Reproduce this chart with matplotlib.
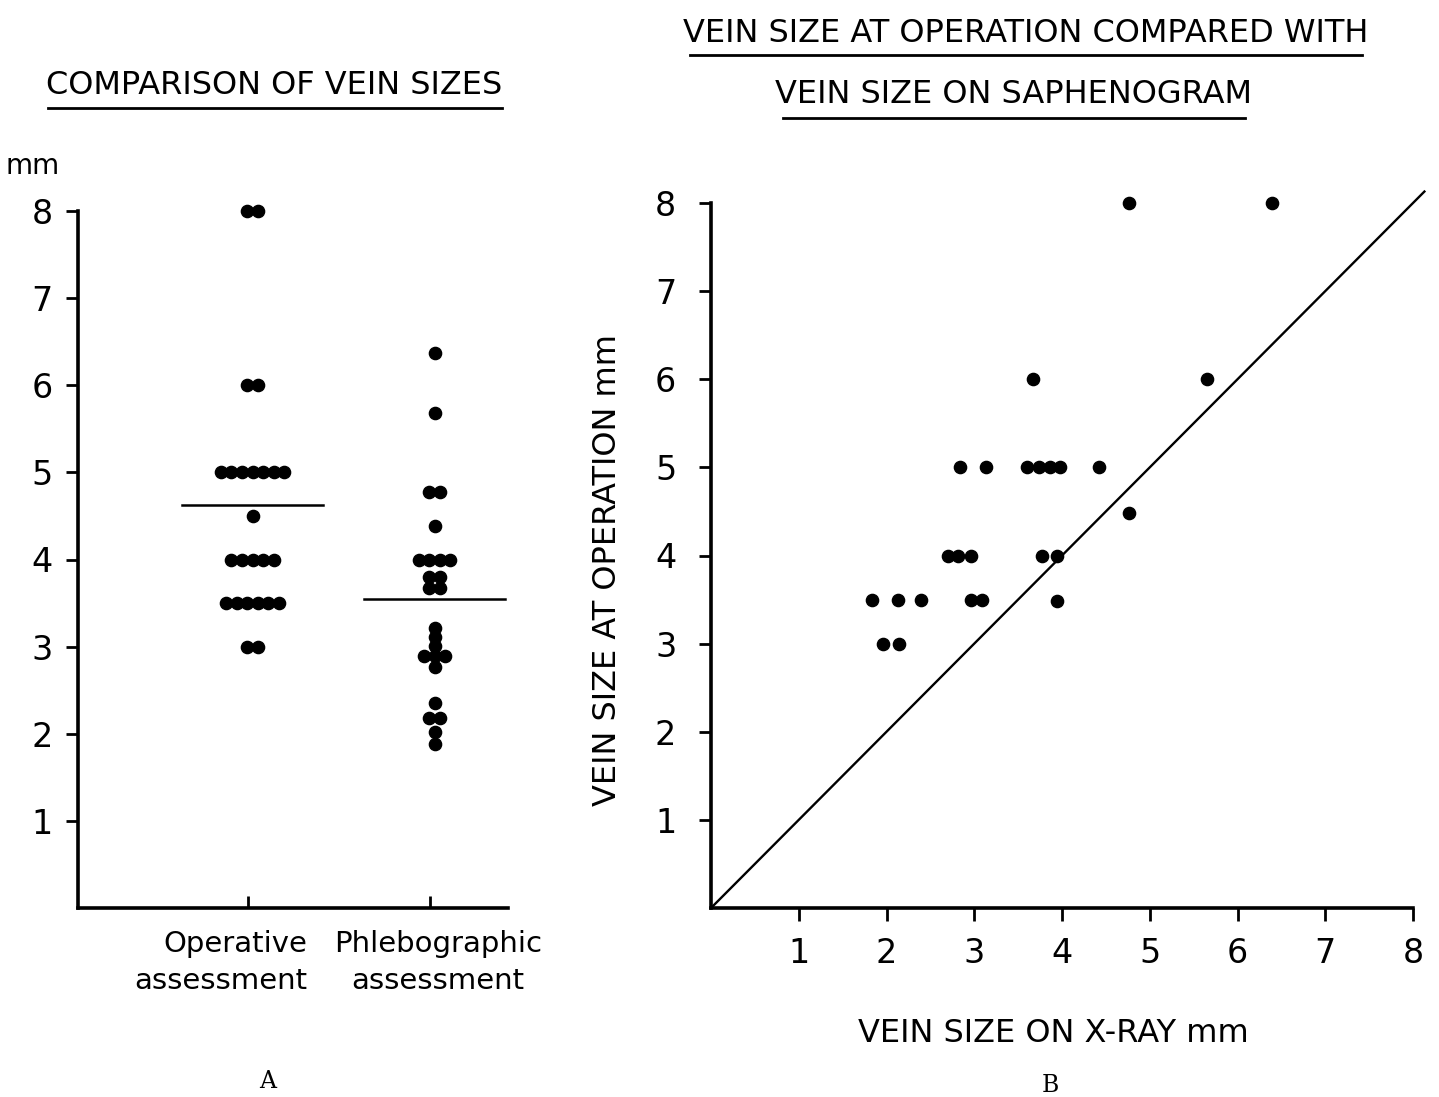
import numpy as np
import matplotlib
matplotlib.use("Agg")
import matplotlib.pyplot as plt
from matplotlib.lines import Line2D

# --- data ---
# panel A: vein size (mm), one dot per patient
operative = [8, 8, 6, 6, 5, 5, 5, 5, 5, 5, 5, 4.5, 4, 4, 4, 4, 4,
             3.5, 3.5, 3.5, 3.5, 3.5, 3.5, 3, 3]
phlebo = [6.37, 5.68, 4.77, 4.77, 4.39, 4.0, 4.0, 4.0, 4.0, 3.80, 3.80,
          3.67, 3.67, 3.21, 3.11, 3.01, 2.89, 2.89, 2.89, 2.77, 2.35,
          2.18, 2.18, 2.02, 1.88]
op_mean = 4.62
ph_mean = 3.55
categories = ["Operative\nassessment", "Phlebographic\nassessment"]

# panel B: x-ray size vs size at operation (mm)
xray = [4.76, 6.39, 3.67, 5.65, 2.84, 3.13, 3.60, 3.74, 3.86, 3.98, 4.42,
        4.76, 2.70, 2.82, 2.96, 3.77, 3.94, 1.84, 2.13, 2.39, 2.96, 3.09,
        3.94, 1.96, 2.14]
at_op = [8, 8, 6, 6, 5, 5, 5, 5, 5, 5, 5, 4.48, 4, 4, 4, 4, 4,
         3.5, 3.5, 3.5, 3.5, 3.5, 3.48, 3, 3]
ticks = [1, 2, 3, 4, 5, 6, 7, 8]

plt.rcParams['font.family'] = 'DejaVu Sans'
FS_T = 23    # titles / axis labels
FS_C = 21    # category labels
FS_K = 24    # tick numbers
W, H = 1439, 1097


def spread(vals, centre, step):
    # put equal values side by side, centred on the category
    xs, ys = [], []
    vals = np.asarray(vals, dtype=float)
    for v in np.unique(vals):
        n = int(np.sum(vals == v))
        off = (np.arange(n) - (n - 1) / 2) * step
        xs += list(centre + off)
        ys += [v] * n
    return xs, ys


def fx(px):
    return px / W


def fy(py):
    return 1 - py / H


fig = plt.figure(figsize=(W / 100, H / 100), dpi=100)

# ---------------- panel A ----------------
axA = fig.add_axes([fx(78), fy(908), (508 - 78) / W, (908 - 211) / H])
step = 0.058
for i, vals in enumerate([operative, phlebo]):
    xs, ys = spread(vals, i + 1.025, step)
    axA.plot(xs, ys, 'o', color='black', ms=8.8, mec='black', clip_on=False)
for i, m in enumerate([op_mean, ph_mean]):
    axA.plot([i + 1.025 - 0.385, i + 1.025 + 0.385], [m, m], color='black', lw=1.8)

axA.set_xlim(1 - 170 / 182, 2 + 78 / 182)
axA.set_ylim(0, 8)
axA.set_yticks(ticks)
axA.set_xticks([1, 2])
axA.set_xticklabels([])
for s in ['top', 'right']:
    axA.spines[s].set_visible(False)
for s in ['left', 'bottom']:
    axA.spines[s].set_linewidth(2.6)
axA.tick_params(axis='y', direction='out', length=9, width=2, pad=9, labelsize=FS_K)
axA.tick_params(axis='x', direction='in', length=9, width=2)

axA.text(1 + 59 / 182, -0.032, categories[0], transform=axA.get_xaxis_transform(),
         ha='right', va='top', multialignment='right', fontsize=FS_C, linespacing=1.4)
axA.text(2 + 8 / 182, -0.032, categories[1], transform=axA.get_xaxis_transform(),
         ha='center', va='top', multialignment='center', fontsize=FS_C, linespacing=1.4)

fig.text(fx(33), fy(166), "mm", ha='center', va='center', fontsize=20)
fig.text(fx(274), fy(85), "COMPARISON OF VEIN SIZES", ha='center', va='center', fontsize=FS_T)
fig.add_artist(Line2D([fx(48), fx(502)], [fy(108), fy(108)], color='black', lw=2))
fig.text(fx(268), fy(1082), "A", ha='center', va='center', fontsize=17, family='DejaVu Serif')

# ---------------- panel B ----------------
axB = fig.add_axes([fx(711), fy(908), (1413 - 711) / W, (908 - 203) / H])
axB.plot([0, 8.13], [0, 8.13], color='black', lw=1.7, clip_on=False)
axB.plot(xray, at_op, 'o', color='black', ms=8.8, mec='black', clip_on=False)
axB.set_xlim(0, 8)
axB.set_ylim(0, 8)
axB.set_xticks(ticks)
axB.set_yticks(ticks)
for s in ['top', 'right']:
    axB.spines[s].set_visible(False)
for s in ['left', 'bottom']:
    axB.spines[s].set_linewidth(2.6)
axB.tick_params(direction='out', length=9, width=2, labelsize=FS_K)
axB.tick_params(axis='x', pad=12)
axB.tick_params(axis='y', pad=16)

axB.set_xlabel("VEIN SIZE ON X-RAY mm", fontsize=FS_T)
axB.xaxis.set_label_coords((1053 - 711) / 702, -(1033 - 908) / 705)
axB.xaxis.label.set_va('center')
axB.set_ylabel("VEIN SIZE AT OPERATION mm", fontsize=FS_T)
axB.yaxis.set_label_coords(-(711 - 607) / 702, (908 - 570) / 705)
axB.yaxis.label.set_va('center')

fig.text(fx(1026), fy(34), "VEIN SIZE AT OPERATION COMPARED WITH", ha='center', va='center', fontsize=FS_T)
fig.add_artist(Line2D([fx(690), fx(1362)], [fy(55), fy(55)], color='black', lw=2))
fig.text(fx(1014), fy(94), "VEIN SIZE ON SAPHENOGRAM", ha='center', va='center', fontsize=FS_T)
fig.add_artist(Line2D([fx(783), fx(1245)], [fy(118), fy(118)], color='black', lw=2))
fig.text(fx(1050), fy(1085), "B", ha='center', va='center', fontsize=17, family='DejaVu Serif')

fig.savefig("out.png", dpi=100, facecolor='white')
